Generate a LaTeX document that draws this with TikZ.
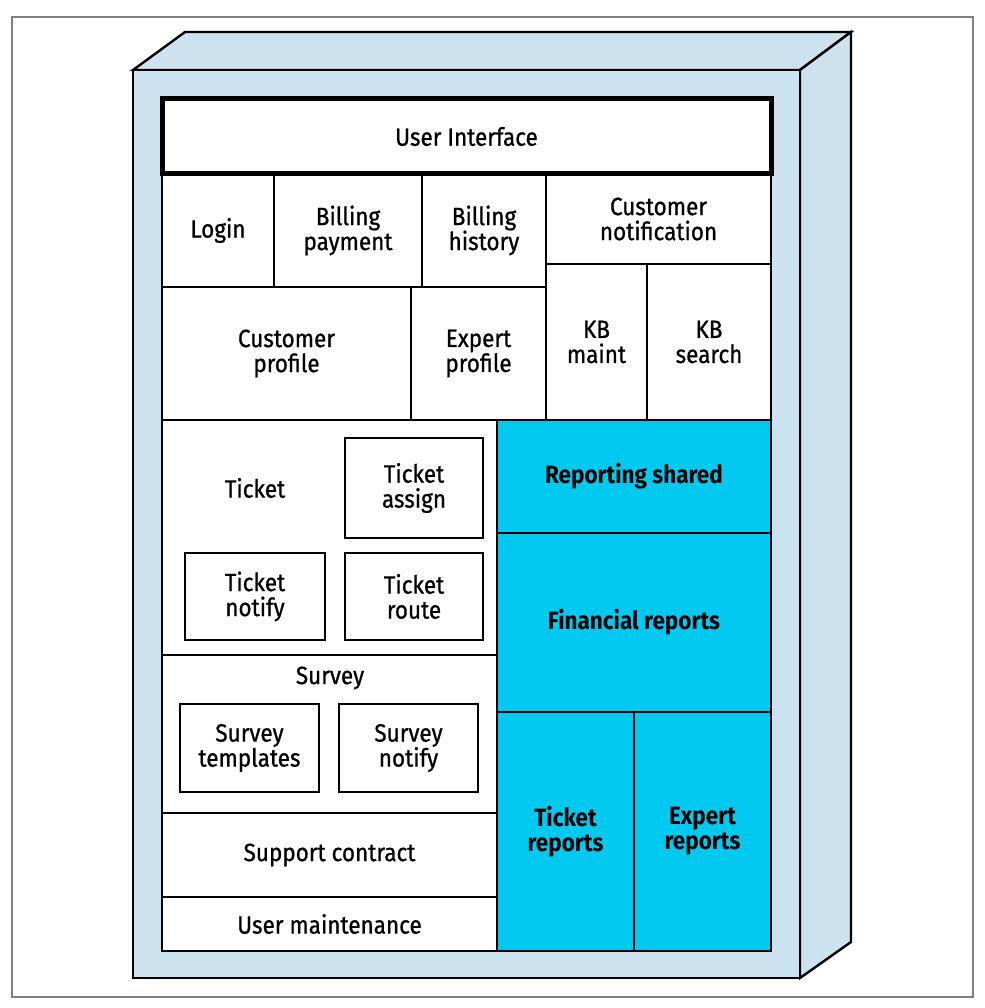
\documentclass[tikz,border=0pt]{standalone}
\usepackage{fontspec}
\setmainfont[FakeStretch=0.9]{Fira Sans}
\newfontfamily\cellfont[FakeStretch=0.9, FakeBold=0.8]{Fira Sans}
\definecolor{faceblue}{HTML}{CCE2EF}
\definecolor{repcyan}{HTML}{00C8EE}
\definecolor{framegray}{HTML}{808080}
\tikzset{
  cell/.style={draw, line width=2.2pt, fill=white, inner sep=0pt, outer sep=0pt, align=center, font=\cellfont\fontsize{25}{25}\selectfont},
  repcell/.style={cell, fill=repcyan, font=\fontsize{25}{25}\selectfont\bfseries},
  face/.style={draw, line width=2.4pt, fill=faceblue, line join=miter},
  lbl/.style={inner sep=0pt, font=\cellfont\fontsize{25}{25}\selectfont}
}
\begin{document}
\begin{tikzpicture}[x=1pt, y=-1pt]
    \useasboundingbox (0,0) rectangle (984,1008);
    \draw [framegray, line width=1.5pt] (12,17) rectangle (973,997);

    % cabinet
    \coordinate (ftl) at (133,70);
    \coordinate (ftr) at (800,70);
    \coordinate (fbr) at (800,978);
    \coordinate (fbl) at (133,978);
    \coordinate (btl) at (185,32);
    \coordinate (btr) at (851,32);
    \coordinate (bbr) at (851,942);
    \draw [face] (ftl) -- (btl) -- (btr) -- (ftr) -- cycle;
    \draw [face] (ftr) -- (btr) -- (bbr) -- (fbr) -- cycle;
    \draw [face] (ftl) rectangle (fbr);

    % top rows
    \node (login) [cell, minimum width=112, minimum height=113] at (218,230.5) {Login};
    \node (billpay) [cell, minimum width=148, minimum height=113] at (348,230.5) {Billing\\payment};
    \node (billhist) [cell, minimum width=124, minimum height=113] at (484,230.5) {Billing\\history};
    \node (custnote) [cell, minimum width=225, minimum height=90] at (658.5,219) {Customer\\notification};
    \node (custprof) [cell, minimum width=249, minimum height=133] at (286.5,353.5) {Customer\\profile};
    \node (expprof) [cell, minimum width=135, minimum height=133] at (478.5,353.5) {Expert\\profile};
    \node (kbmaint) [cell, minimum width=101, minimum height=156] at (596.5,342) {KB\\maint};
    \node (kbsearch) [cell, minimum width=124, minimum height=156] at (709,342) {KB\\search};

    % ticket
    \node (ticket) [cell, minimum width=335, minimum height=235] at (329.5,537.5) {};
    \node (ticketlbl) [lbl] at (255,488) {Ticket};
    \node (tassign) [cell, minimum width=138, minimum height=100] at (414,488) {Ticket\\assign};
    \node (tnotify) [cell, minimum width=140, minimum height=87] at (255,596.5) {Ticket\\notify};
    \node (troute) [cell, minimum width=138, minimum height=87] at (414,596.5) {Ticket\\route};

    % survey
    \node (survey) [cell, minimum width=335, minimum height=158] at (329.5,734) {};
    \node (surveylbl) [lbl] at (330,678) {Survey};
    \node (stemplates) [cell, minimum width=139, minimum height=88] at (249.5,748) {Survey\\templates};
    \node (snotify) [cell, minimum width=139, minimum height=88] at (408.5,748) {Survey\\notify};

    \node (support) [cell, minimum width=335, minimum height=84] at (329.5,855) {Support contract};
    \node (usermaint) [cell, minimum width=335, minimum height=54] at (329.5,924) {User maintenance};

    % reporting
    \node (repshared) [repcell, minimum width=274, minimum height=113] at (634,476.5) {Reporting shared};
    \node (finrep) [repcell, minimum width=274, minimum height=179] at (634,622.5) {Financial reports};
    \node (tickrep) [repcell, minimum width=137, minimum height=239] at (565.5,831.5) {Ticket\\reports};
    \node (exprep) [repcell, minimum width=137, minimum height=239] at (702.5,831.5) {Expert\\reports};

    \node (ui) [cell, line width=5pt, minimum width=609, minimum height=75] at (466.5,136.5) {User Interface};
\end{tikzpicture}
\end{document}
